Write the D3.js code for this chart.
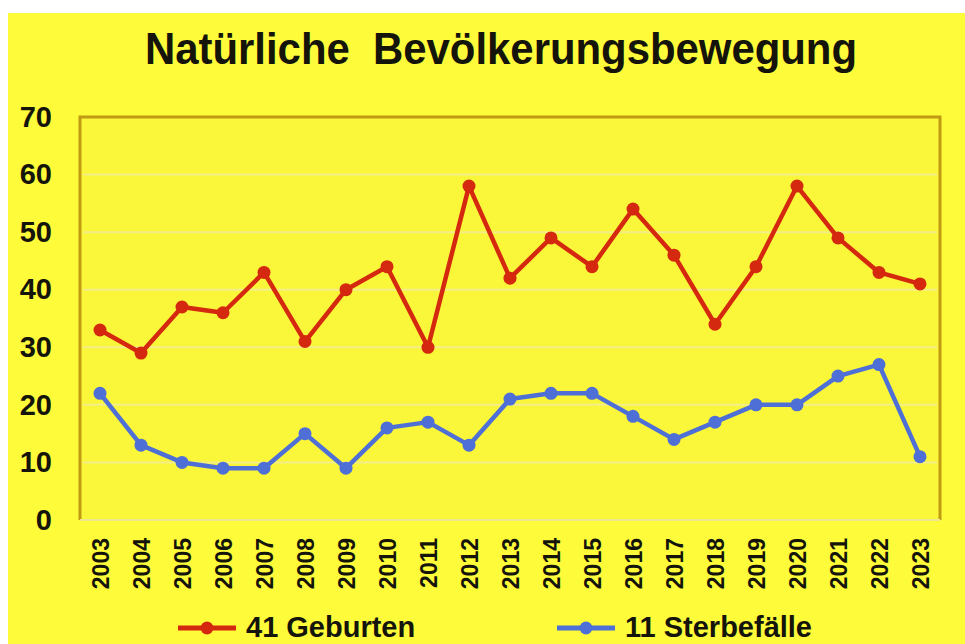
<!DOCTYPE html>
<html>
<head>
<meta charset="utf-8">
<script src="https://cdn.jsdelivr.net/npm/d3@7"></script>
<style>
  body { margin: 0; background: #fff; }
  text { font-family: "Liberation Sans", Arial, sans-serif; font-weight: bold; }
</style>
</head>
<body>
<script>
// chart data
var years = ["2003","2004","2005","2006","2007","2008","2009","2010","2011","2012","2013",
             "2014","2015","2016","2017","2018","2019","2020","2021","2022","2023"];
var geburten = [33,29,37,36,43,31,40,44,30,58,42,49,44,54,46,34,44,58,49,43,41];
var sterbefaelle = [22,13,10,9,9,15,9,16,17,13,21,22,22,18,14,17,20,20,25,27,11];
var yTicks = [0,10,20,30,40,50,60,70];
var title = "Natürliche  Bevölkerungsbewegung";
var legendLabels = ["41 Geburten", "11 Sterbefälle"];

var width = 965,
    height = 644;

var svg = d3.select("body")
            .append("svg")
            .attr("width", width)
            .attr("height", height);

// yellow background with white strip on top/left
svg.append("rect")
    .attr("x", 8).attr("y", 13)
    .attr("width", width - 8).attr("height", height - 13)
    .attr("fill", "#fdfb3a");

var plot = {left: 80, right: 940, top: 117, bottom: 520};

var x = d3.scalePoint()
    .domain(years)
    .range([100, 920]);

var y = d3.scaleLinear()
    .domain([0, 70])
    .range([plot.bottom, plot.top]);

// plot area
svg.append("rect")
    .attr("x", plot.left).attr("y", plot.top)
    .attr("width", plot.right - plot.left)
    .attr("height", plot.bottom - plot.top)
    .attr("fill", "#faf63a");

// faint grid lines
svg.append("g")
  .selectAll("line")
  .data(yTicks.slice(1, -1))
  .enter().append("line")
    .attr("x1", plot.left + 3).attr("x2", plot.right - 3)
    .attr("y1", function(d) { return y(d); })
    .attr("y2", function(d) { return y(d); })
    .attr("stroke", "#f3ee8a")
    .attr("stroke-width", 2);

// border: top, left, right dark; bottom light
svg.append("path")
    .attr("d", "M" + plot.left + "," + plot.bottom + "V" + plot.top + "H" + plot.right + "V" + plot.bottom)
    .attr("fill", "none")
    .attr("stroke", "#bf9a12")
    .attr("stroke-width", 3);
svg.append("line")
    .attr("x1", plot.left).attr("x2", plot.right)
    .attr("y1", plot.bottom).attr("y2", plot.bottom)
    .attr("stroke", "#eee690")
    .attr("stroke-width", 2);

// title
svg.append("text")
    .attr("x", 501)
    .attr("y", 64)
    .attr("text-anchor", "middle")
    .attr("font-size", 44)
    .attr("fill", "#14140a")
    .attr("textLength", 712)
    .attr("lengthAdjust", "spacingAndGlyphs")
    .style("white-space", "pre")
    .text(title);

// y axis labels
var yAxis = svg.append("g")
    .attr("transform", "translate(52,0)")
    .call(d3.axisLeft(y).tickValues(yTicks).tickSize(0).tickPadding(0));
yAxis.select(".domain").remove();
yAxis.selectAll("text")
    .attr("font-size", 29)
    .attr("font-family", "Liberation Sans, Arial, sans-serif")
    .attr("font-weight", "bold")
    .attr("fill", "#14140a");

// x axis labels (rotated)
var xAxis = svg.append("g")
    .attr("transform", "translate(0,538)")
    .call(d3.axisBottom(x).tickSize(0));
xAxis.select(".domain").remove();
xAxis.selectAll("text")
    .attr("font-size", 23)
    .attr("font-family", "Liberation Sans, Arial, sans-serif")
    .attr("font-weight", "bold")
    .attr("fill", "#14140a")
    .attr("text-anchor", "end")
    .attr("transform", "rotate(-90)")
    .attr("x", 0)
    .attr("y", 0)
    .attr("dy", "0.35em");

var series = [
    {values: geburten, color: "#d4280f"},
    {values: sterbefaelle, color: "#4d6fd6"}
];

var line = d3.line()
    .x(function(d, i) { return x(years[i]); })
    .y(function(d) { return y(d); });

series.forEach(function(s) {
    svg.append("path")
        .datum(s.values)
        .attr("fill", "none")
        .attr("stroke", s.color)
        .attr("stroke-width", 4.5)
        .attr("stroke-linejoin", "round")
        .attr("d", line);

    svg.append("g")
      .selectAll("circle")
      .data(s.values)
      .enter().append("circle")
        .attr("cx", function(d, i) { return x(years[i]); })
        .attr("cy", function(d) { return y(d); })
        .attr("r", 6.5)
        .attr("fill", s.color);
});

// legend
var legendX = [178, 557];
series.forEach(function(s, i) {
    var lg = svg.append("g").attr("transform", "translate(" + legendX[i] + ",628)");
    lg.append("line")
        .attr("x1", 0).attr("x2", 58)
        .attr("stroke", s.color)
        .attr("stroke-width", 5);
    lg.append("circle")
        .attr("cx", 29).attr("r", 6.5)
        .attr("fill", s.color);
    lg.append("text")
        .attr("x", 68)
        .attr("y", 9)
        .attr("font-size", 29)
        .attr("fill", "#14140a")
        .text(legendLabels[i]);
});
</script>
</body>
</html>
